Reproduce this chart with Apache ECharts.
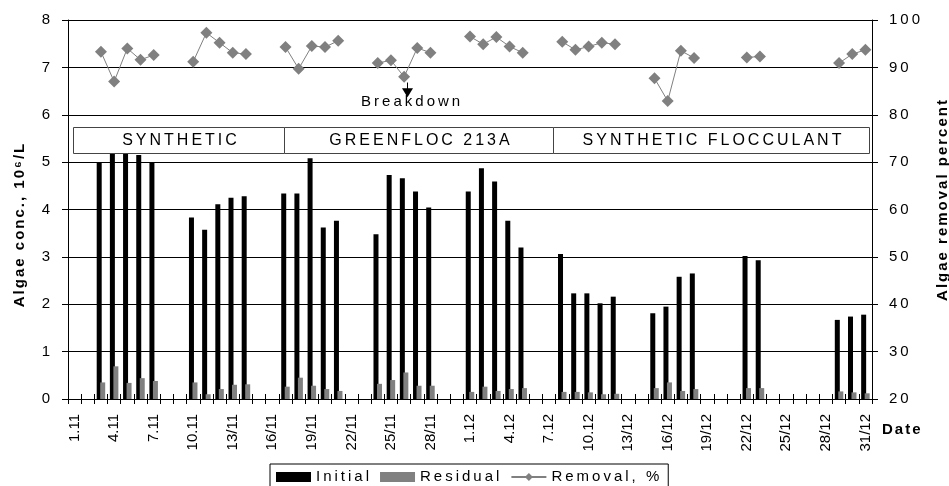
<!DOCTYPE html>
<html>
<head>
<meta charset="utf-8">
<script src="https://cdn.jsdelivr.net/npm/echarts@6/dist/echarts.min.js"></script>
<style>html,body{margin:0;padding:0;background:#fff}#c{width:949px;height:486px}</style>
</head>
<body>
<div id="c"></div>
<script>
// ---- data ----
const dates = [
  '1.11','2.11','3.11','4.11','5.11','6.11','7.11','8.11','9.11','10.11',
  '11/11','12/11','13/11','14/11','15/11','16/11','17/11','18/11','19/11','20/11',
  '21/11','22/11','23/11','24/11','25/11','26/11','27/11','28/11','29/11','30/11',
  '1.12','2.12','3.12','4.12','5.12','6.12','7.12','8.12','9.12','10.12',
  '11/12','12/12','13/12','14/12','15/12','16/12','17/12','18/12','19/12','20/12',
  '21/12','22/12','23/12','24/12','25/12','26/12','27/12','28/12','29/12','30/12','31/12'
];
const tickLabels = ['1.11','4.11','7.11','10.11','13/11','16/11','19/11','22/11','25/11','28/11',
  '1.12','4.12','7.12','10.12','13/12','16/12','19/12','22/12','25/12','28/12','31/12'];
const initial = [
  null,null,4.98,5.25,5.25,5.15,5.00,null,null,3.83,
  3.57,4.11,4.25,4.28,null,null,4.34,4.34,5.08,3.62,
  3.76,null,null,3.48,4.73,4.66,4.38,4.04,null,null,
  4.38,4.87,4.59,3.76,3.20,null,null,3.06,2.23,2.23,
  2.02,2.16,null,null,1.81,1.95,2.58,2.65,null,null,
  null,3.02,2.93,null,null,null,null,null,1.67,1.74,1.78
];
const residual = [
  null,null,0.35,0.69,0.34,0.44,0.38,null,null,0.35,
  0.10,0.21,0.30,0.31,null,null,0.26,0.45,0.28,0.21,
  0.17,null,null,0.32,0.40,0.56,0.28,0.28,null,null,
  0.15,0.26,0.17,0.21,0.23,null,null,0.15,0.15,0.14,
  0.10,0.11,null,null,0.23,0.35,0.17,0.21,null,null,
  null,0.23,0.23,null,null,null,null,null,0.16,0.14,0.12
];
const removal = [
  null,null,93.3,87.0,94.0,91.6,92.6,null,null,91.2,
  97.3,95.2,93.1,92.8,null,null,94.3,89.7,94.5,94.3,
  95.6,null,null,90.9,91.5,88.0,94.1,93.1,null,null,
  96.5,94.9,96.4,94.4,93.1,null,null,95.4,93.7,94.4,
  95.2,94.9,null,null,87.7,82.9,93.5,92.0,null,null,
  null,92.1,92.3,null,null,null,null,null,90.9,92.8,93.7
];
const treatments = ['SYNTHETIC', 'GREENFLOC 213A', 'SYNTHETIC FLOCCULANT'];
const breakdownText = 'Breakdown';

// ---- letter spacing like the original (horizontal texts spaced) ----
(function(){
  const P = CanvasRenderingContext2D.prototype;
  function ls(ctx){
    const f = ctx.font || '';
    let v = '0px';
    if (/(^|\s)500(\s|$)/.test(f)) v = '3px';
    else if (/bold|700/.test(f)) v = '2px';
    try { if (ctx.letterSpacing !== v) ctx.letterSpacing = v; } catch(e) {}
  }
  ['fillText','strokeText','measureText'].forEach(function(k){
    const o = P[k];
    P[k] = function(){ ls(this); return o.apply(this, arguments); };
  });
})();

const FONT = 'Liberation Sans';
const chart = echarts.init(document.getElementById('c'), null, {renderer:'canvas'});
const option = {
  animation: false,
  backgroundColor: '#fff',
  textStyle: {fontFamily: FONT, color: '#000'},
  grid: {left: 68, right: 77, top: 20, bottom: 87, containLabel: false, outerBoundsMode: 'none'},
  legend: {
    left: 270, top: 464,
    orient: 'horizontal',
    itemWidth: 35, itemHeight: 10, itemGap: 8,
    padding: [4, 6, 4, 6],
    borderColor: '#000', borderWidth: 1,
    textStyle: {fontFamily: FONT, fontSize: 15, fontWeight: 500, color: '#000'},
    data: [{name: 'Initial', icon: 'rect'}, {name: 'Residual', icon: 'rect'}, {name: 'Removal, %'}]
  },
  xAxis: [{
    type: 'category', data: dates, position: 'bottom',
    name: 'Date', nameLocation: 'end', nameGap: 10,
    nameTextStyle: {fontFamily: FONT, fontSize: 15, fontWeight: 'bold', color: '#000', verticalAlign: 'top', padding: [22, 0, 0, 0]},
    axisLine: {lineStyle: {color: '#000', width: 1}},
    axisTick: {show: true, interval: 0, length: 5, lineStyle: {color: '#000'}},
    axisLabel: {
      interval: 2, rotate: 90, margin: 15, fontSize: 15, color: '#000', fontFamily: FONT,
      formatter: function(v){ return tickLabels.indexOf(v) >= 0 ? v : ''; }
    },
    splitLine: {show: false}
  }, {
    type: 'category', data: dates, position: 'bottom', offset: 0,
    axisLine: {show: false},
    axisTick: {show: true, inside: true, interval: 0, length: 5, lineStyle: {color: '#000'}},
    axisLabel: {show: false}, splitLine: {show: false}
  }],
  yAxis: [{
    type: 'value', min: 0, max: 8, interval: 1, position: 'left',
    name: 'Algae conc., 10\u2076/L', nameLocation: 'middle', nameGap: 40, nameRotate: 90,
    nameTextStyle: {fontFamily: FONT, fontSize: 15, fontWeight: 'bold', color: '#000', padding: [0, 30, 0, 0]},
    axisLine: {show: true, lineStyle: {color: '#000'}},
    axisTick: {show: true, length: 6, lineStyle: {color: '#000'}},
    axisLabel: {margin: 15, fontSize: 15, fontWeight: 500, color: '#000', fontFamily: FONT},
    splitLine: {show: true, lineStyle: {color: '#000', width: 1}}
  }, {
    type: 'value', min: 20, max: 100, interval: 10, position: 'right',
    name: 'Algae removal percent', nameLocation: 'middle', nameGap: 58, nameRotate: 90,
    nameTextStyle: {fontFamily: FONT, fontSize: 15, fontWeight: 'bold', color: '#000', padding: [0, 0, 0, 20]},
    axisLine: {show: true, lineStyle: {color: '#000'}},
    axisTick: {show: true, length: 6, lineStyle: {color: '#000'}},
    axisLabel: {margin: 17, fontSize: 15, fontWeight: 500, color: '#000', fontFamily: FONT},
    splitLine: {show: false}
  }],
  series: [{
    name: 'Initial', type: 'bar', data: initial, barWidth: 5, barGap: '-30%',
    itemStyle: {color: '#000'}, z: 2
  }, {
    name: 'Residual', type: 'bar', data: residual, barWidth: 5,
    itemStyle: {color: '#808080'}, z: 2
  }, {
    name: 'Removal, %', type: 'line', yAxisIndex: 1, data: removal,
    connectNulls: false, symbol: 'diamond', symbolSize: 12, showAllSymbol: true,
    itemStyle: {color: '#808080'}, lineStyle: {color: '#808080', width: 1}, z: 5
  }]
};
chart.setOption(option);

// ---- annotations placed through the axes ----
const p0 = chart.convertToPixel({xAxisIndex: 0}, 0);
const p1 = chart.convertToPixel({xAxisIndex: 0}, 1);
const cw = p1 - p0, xL = p0 - cw / 2;
const X = f => xL + f * cw;
const Y = v => chart.convertToPixel({yAxisIndex: 0}, v);
const boxSpans = [[0.36, 16.4], [16.4, 36.8], [36.8, 60.8]];
const boxTop = Y(5.74), boxBot = Y(5.19);
const g = [];
boxSpans.forEach(function(s, i){
  const x0 = Math.round(X(s[0])) + 0.5, x1 = Math.round(X(s[1])) + 0.5;
  const y0 = Math.round(boxTop) + 0.5, y1 = Math.round(boxBot) + 0.5;
  g.push({type: 'rect', z: 20, shape: {x: x0, y: y0, width: x1 - x0, height: y1 - y0},
    style: {fill: '#fff', stroke: '#444', lineWidth: 1}});
  g.push({type: 'text', z: 21, style: {text: treatments[i], x: (x0 + x1) / 2 + 2, y: (y0 + y1) / 2,
    align: 'center', verticalAlign: 'middle', fontSize: 16, fontWeight: 500, fontFamily: FONT, fill: '#000'}});
});
const ax = Math.round(X(25.73)) + 0.5;
g.push({type: 'line', z: 20, shape: {x1: ax, y1: Y(6.68), x2: ax, y2: Y(6.5)}, style: {stroke: '#000', lineWidth: 1}});
g.push({type: 'polygon', z: 20, shape: {points: [[ax - 5.5, Y(6.56)], [ax + 5.5, Y(6.56)], [ax, Y(6.37)]]}, style: {fill: '#000'}});
g.push({type: 'text', z: 21, style: {text: breakdownText, x: X(26.11), y: Y(6.27), align: 'center', verticalAlign: 'middle',
  fontSize: 15, fontWeight: 500, fontFamily: FONT, fill: '#000'}});
chart.setOption({graphic: {elements: g}});
</script>
</body>
</html>
